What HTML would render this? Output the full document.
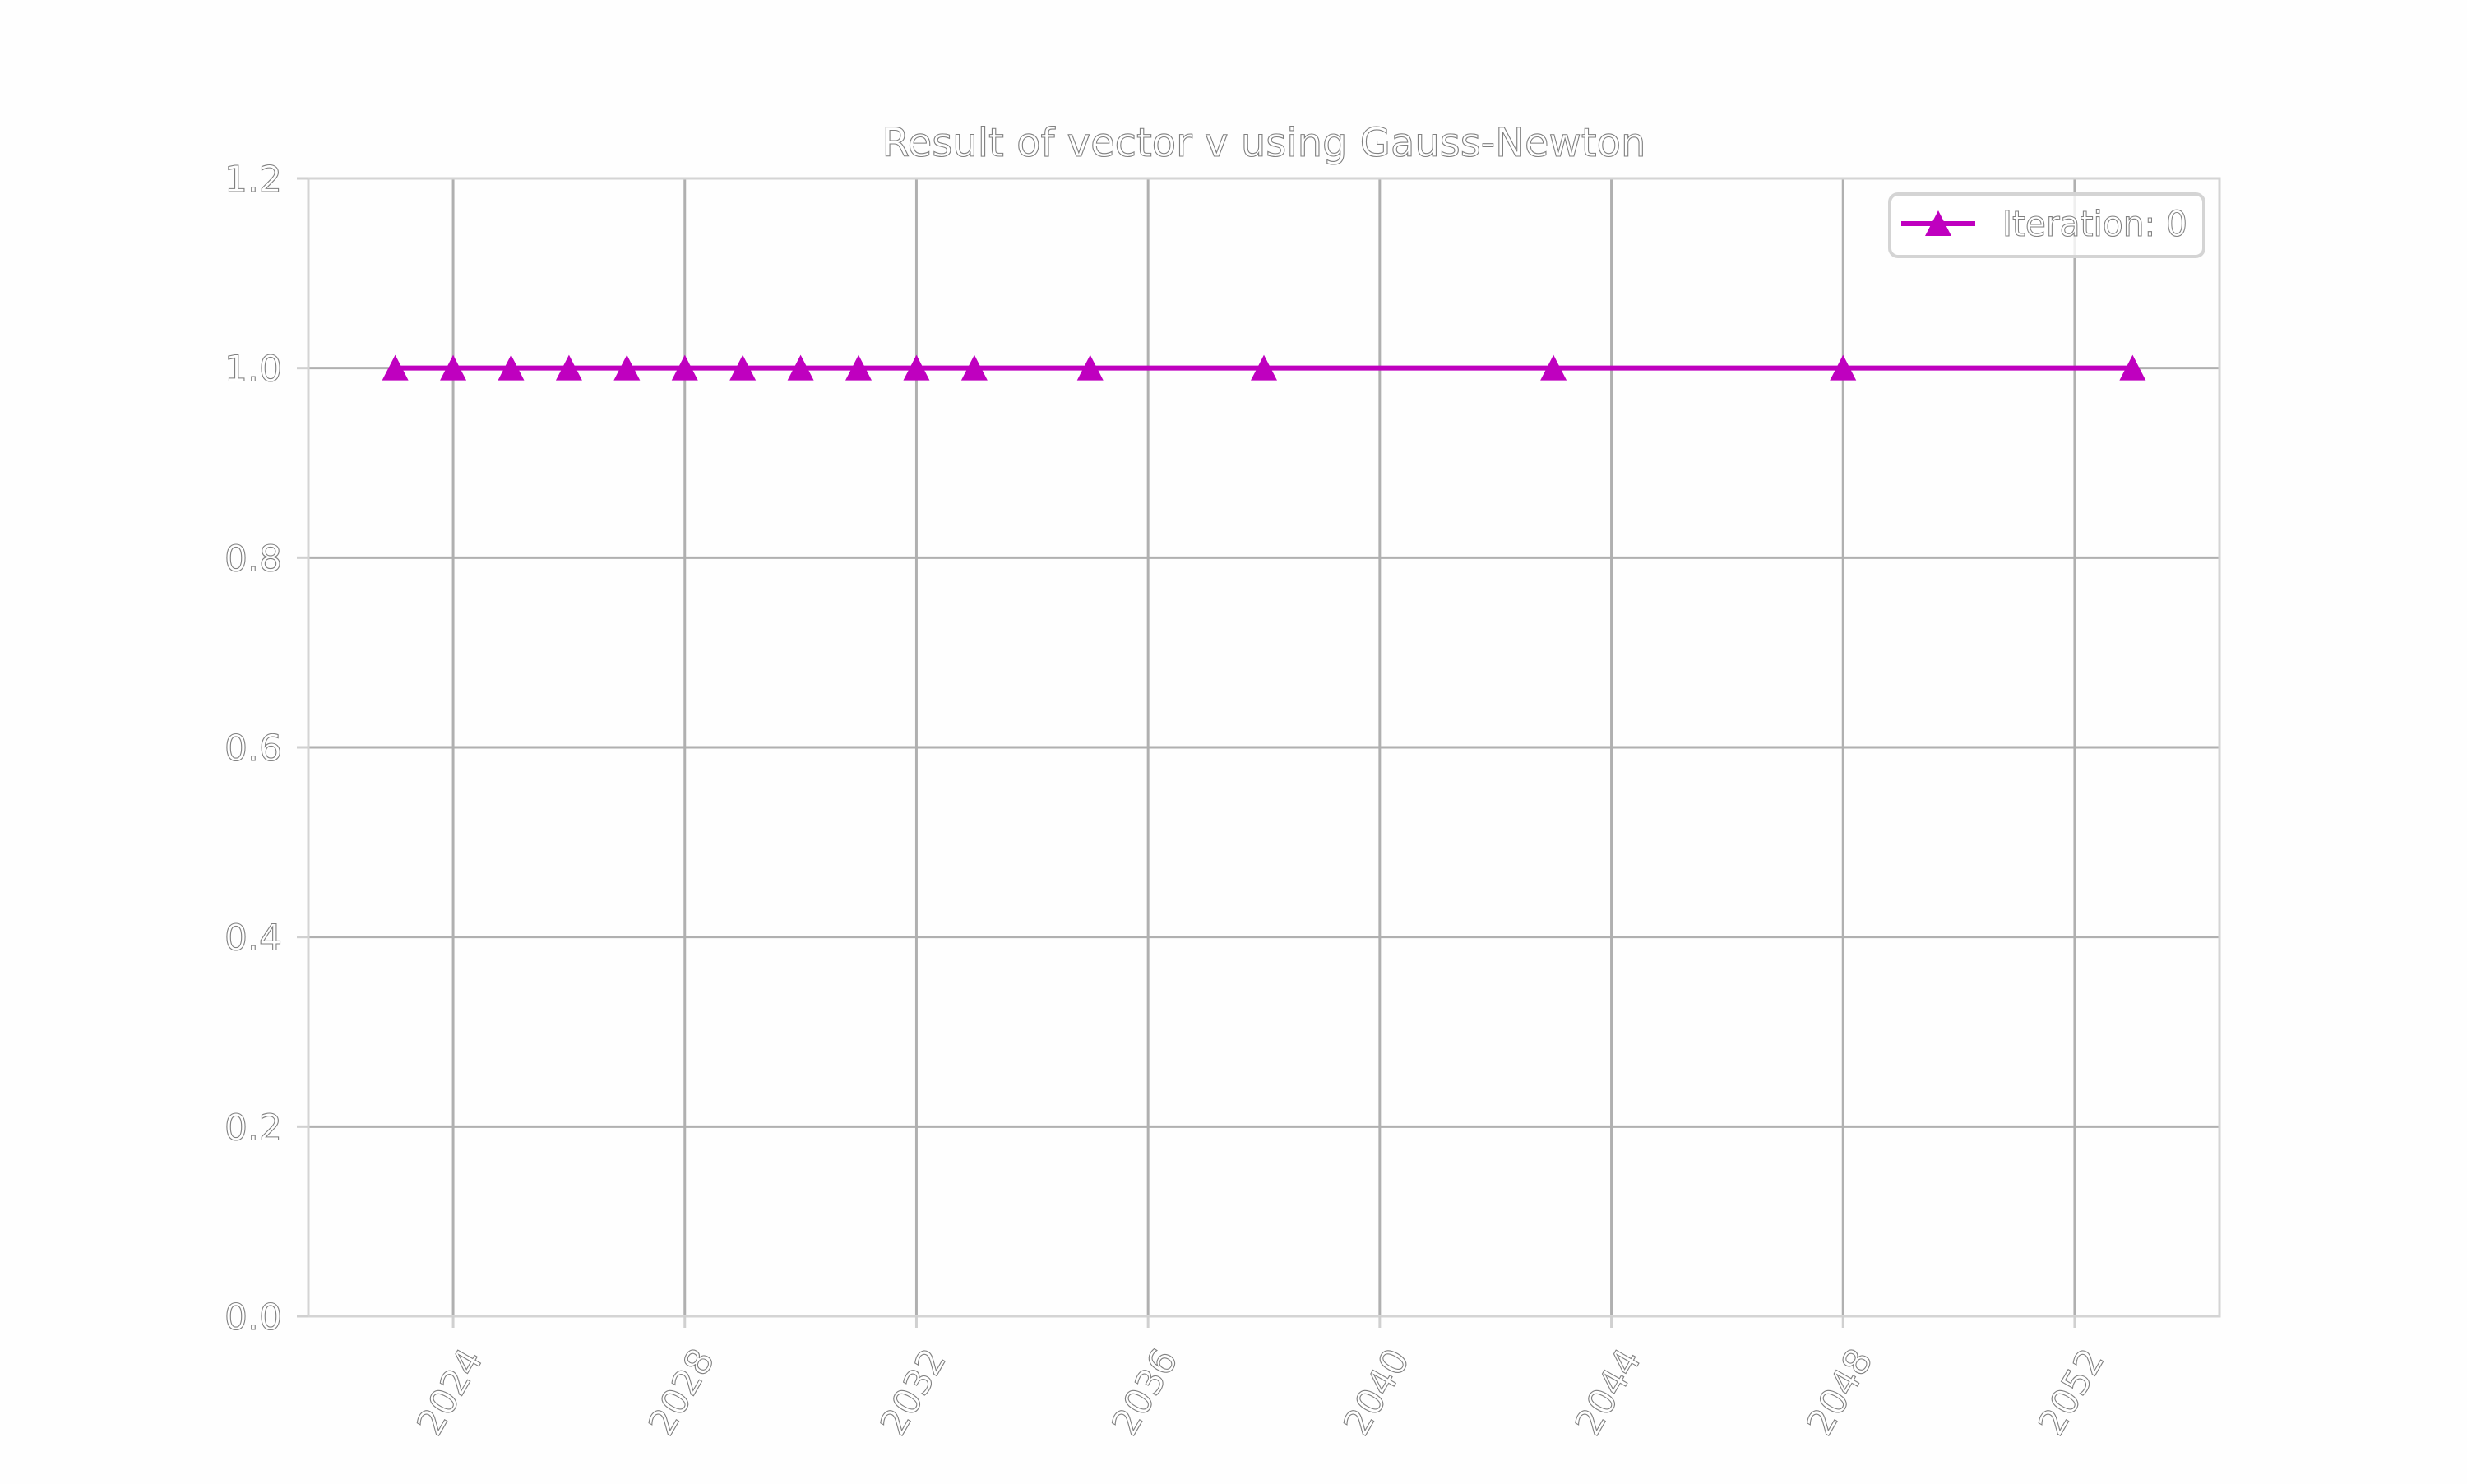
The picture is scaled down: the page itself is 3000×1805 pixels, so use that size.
<!DOCTYPE html>
<html><head><meta charset="utf-8"><style>
html,body{margin:0;padding:0;background:#fefefe;}
svg text{font-family:"DejaVu Sans","Liberation Sans",sans-serif;fill:#ffffff;stroke:#808080;stroke-width:1.1;}
</style></head><body>
<svg id="chart" width="3000" height="1800" viewBox="0 0 3000 1800" xmlns="http://www.w3.org/2000/svg">
<rect width="3000" height="1800" fill="#fefefe"/>
<g id="grid"></g>
<rect x="375" y="217" width="2324" height="1384" fill="none" stroke="#d4d4d4" stroke-width="3"/>
<g id="axes"></g>
<g id="series"></g>
<text x="1537" y="190" font-size="48" text-anchor="middle">Result of vector v using Gauss-Newton</text>
<g>
<rect x="2298" y="236" width="382" height="76" rx="10" fill="#ffffff" fill-opacity="0.8" stroke="#d4d4d4" stroke-width="4"/>
<line x1="2312" y1="272" x2="2402" y2="272" stroke="#bf00bf" stroke-width="6"/>
<polygon points="2357,256 2373,287 2341,287" fill="#bf00bf"/>
<text x="2435" y="287" font-size="43" textLength="225" lengthAdjust="spacingAndGlyphs">Iteration: 0</text>
</g>
</svg>
<script>
const years = [2023,2024,2025,2026,2027,2028,2029,2030,2031,2032,2033,2035,2038,2043,2048,2053];
const values = [1,1,1,1,1,1,1,1,1,1,1,1,1,1,1,1];
const xTicks = [2024,2028,2032,2036,2040,2044,2048,2052];
const yTicks = [0.0,0.2,0.4,0.6,0.8,1.0,1.2];
const yTickLabels = ["0.0","0.2","0.4","0.6","0.8","1.0","1.2"];

const NS = "http://www.w3.org/2000/svg";
const L = 375, R = 2699, T = 217, B = 1601;
const xMin = Math.min(...years), xMax = Math.max(...years), pad = (xMax - xMin) * 0.05;
const x0 = xMin - pad, x1 = xMax + pad;
const X = v => L + (v - x0) / (x1 - x0) * (R - L);
const Y = v => B - (v - 0) / (1.2 - 0) * (B - T);
function mk(tag, attrs, parent){const e=document.createElementNS(NS,tag);for(const k in attrs)e.setAttribute(k,attrs[k]);parent.appendChild(e);return e;}
const grid = document.getElementById('grid'), axes = document.getElementById('axes'), series = document.getElementById('series');

xTicks.forEach(t => {
  const g = mk('line',{x1:X(t),x2:X(t),y1:T,y2:B,stroke:'#b0b0b0','stroke-width':3},grid);
  
  
  const tk = mk('line',{x1:X(t),x2:X(t),y1:B,y2:B+14,stroke:'#d0d0d0','stroke-width':3},axes);
  
  
  const cx = X(t) - 4, cy = B + 92;
  const lb = mk('text',{x:cx,y:cy+15,'font-size':44,'text-anchor':'middle',transform:`rotate(-60 ${cx} ${cy})`},axes);
  lb.textContent = String(t);
  
  
});
yTicks.forEach((t,i) => {
  const g = mk('line',{x1:L,x2:R,y1:Y(t),y2:Y(t),stroke:'#b0b0b0','stroke-width':3},grid);
  
  
  const tk = mk('line',{x1:L-14,x2:L,y1:Y(t),y2:Y(t),stroke:'#d0d0d0','stroke-width':3},axes);
  
  
  const lb = mk('text',{x:L-32,y:Y(t)+16,'font-size':44,'text-anchor':'end'},axes);
  lb.textContent = yTickLabels[i];
  
  
});
const pts = years.map((y,i)=>X(y)+','+Y(values[i])).join(' ');
const line = mk('polyline',{points:pts,fill:'none',stroke:'#bf00bf','stroke-width':6},series);


years.forEach((y,i)=>{
  const cx = X(y), cy = Y(values[i]);
  const m = mk('polygon',{points:`${cx},${cy-16} ${cx+16},${cy+15} ${cx-16},${cy+15}`,fill:'#bf00bf'},series);
  
  
});
</script>
</body></html>
